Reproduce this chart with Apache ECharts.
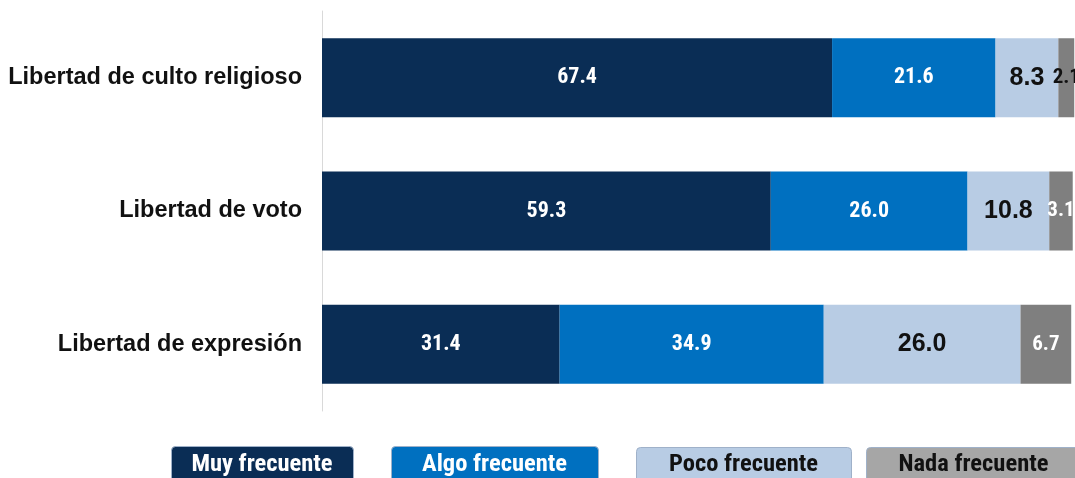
<!DOCTYPE html>
<html>
<head>
<meta charset="utf-8">
<script src="https://cdn.jsdelivr.net/npm/echarts@6/dist/echarts.min.js"></script>
<style>
  html, body { margin: 0; padding: 0; background: #fff; }
  #main { width: 1075px; height: 478px; }
</style>
</head>
<body>
<div id="main"></div>
<script>
// datos del grafico (porcentajes)
var categorias = ["Libertad de expresión", "Libertad de voto", "Libertad de culto religioso"];
var series_nombres = ["Muy frecuente", "Algo frecuente", "Poco frecuente", "Nada frecuente"];
var muy_frecuente = [31.4, 59.3, 67.4];
var algo_frecuente = [34.9, 26.0, 21.6];
var poco_frecuente = [26.0, 10.8, 8.3];
var nada_frecuente = [6.7, 3.1, 2.1];

var colores = ["#0a2d55", "#0070c0", "#b8cce4", "#7f7f7f"];
var narrow = "'Liberation Sans Narrow', 'Arial Narrow', 'Roboto Condensed', 'Liberation Sans', sans-serif";

var chart = echarts.init(document.getElementById("main"));

function serie(nombre, datos, color, label) {
    return {
        name: nombre,
        type: "bar",
        stack: "total",
        barWidth: 79,
        data: datos,
        itemStyle: { color: color },
        label: label
    };
}

function fmt(p) { return p.value.toFixed(1); }

var lab_blanco = {
    show: true, position: "inside", color: "#fff",
    fontFamily: narrow, fontWeight: "bold", fontSize: 22, formatter: fmt
};
var lab_poco = {
    show: true, position: "inside", color: "#111",
    fontFamily: "'Liberation Sans', Arial, sans-serif", fontWeight: "bold", fontSize: 25, formatter: fmt
};
var lab_nada = {
    show: true, position: "inside", color: "#fff",
    fontFamily: narrow, fontWeight: "bold", fontSize: 21, formatter: fmt
};

// 2.1 va en negro en el original
var nada_datos = nada_frecuente.map(function (v, i) {
    if (i == 2) return { value: v, label: { color: "#111" } };
    return v;
});

// cajas de la leyenda (abajo)
var leyenda_x = [171, 391, 636, 866];
var leyenda_w = [182, 207, 215, 215];
var leyenda_top = [446, 446, 447, 447];
var leyenda_color = ["#0a2d55", "#0070c0", "#b8cce4", "#a6a6a6"];
var leyenda_texto = ["#fff", "#fff", "#111", "#111"];
var graficos = [];
for (var i = 0; i < series_nombres.length; i++) {
    graficos.push({
        type: "rect",
        left: leyenda_x[i], top: leyenda_top[i],
        shape: { width: leyenda_w[i], height: 50, r: 4 },
        style: { fill: leyenda_color[i], stroke: "#9fb1c9", lineWidth: 1 }
    });
    graficos.push({
        type: "text",
        x: leyenda_x[i] + leyenda_w[i] / 2, y: 465,
        style: {
            text: series_nombres[i], fill: leyenda_texto[i],
            font: "bold 24.5px " + narrow,
            textAlign: "center", textVerticalAlign: "middle"
        }
    });
}

chart.setOption({
    animation: false,
    grid: { left: 322, top: 11, right: 0, height: 400, containLabel: false },
    xAxis: {
        // el original esta recortado a la derecha
        type: "value", min: 0, max: 99.5, show: false
    },
    yAxis: {
        type: "category",
        data: categorias,
        axisLine: { show: true, lineStyle: { color: "#d9d9d9", width: 1 } },
        axisTick: { show: false },
        axisLabel: {
            color: "#111", fontSize: 23.5, fontWeight: "bold",
            fontFamily: "'Liberation Sans', Arial, sans-serif", margin: 20
        }
    },
    series: [
        serie(series_nombres[0], muy_frecuente, colores[0], lab_blanco),
        serie(series_nombres[1], algo_frecuente, colores[1], lab_blanco),
        serie(series_nombres[2], poco_frecuente, colores[2], lab_poco),
        serie(series_nombres[3], nada_datos, colores[3], lab_nada)
    ],
    graphic: graficos
});
</script>
</body>
</html>
